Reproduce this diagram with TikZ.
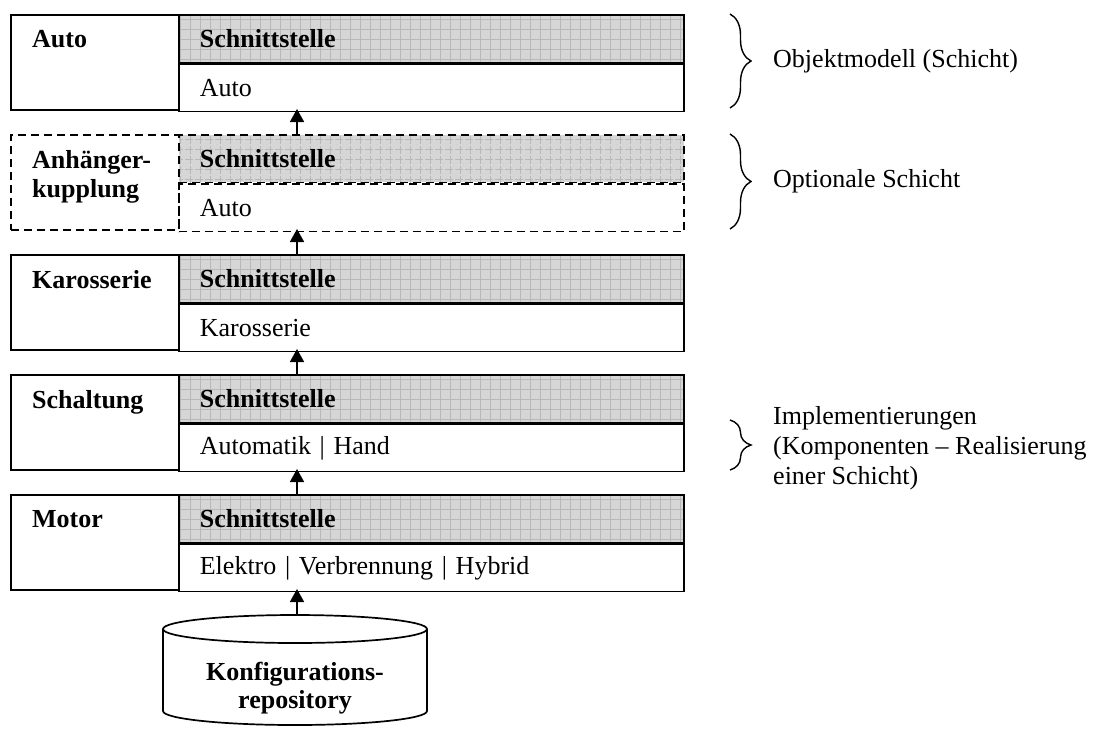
\documentclass[tikz,border=0pt]{standalone}
\usepackage{fontspec}
\setmainfont{Liberation Serif}
\usetikzlibrary{arrows.meta,calc,decorations.pathreplacing,patterns.meta}

\newcommand{\schichtfont}{\fontsize{26}{29}\selectfont}

\tikzset{
	base/.style={draw,line width=1.7pt,inner sep=0pt,anchor=north west},
	labelbox/.style={base,minimum width=168pt,minimum height=95pt},
	ifbox/.style={base,text width=463pt,inner xsep=21pt,minimum height=47.5pt,align=left,font=\schichtfont\bfseries,
		preaction={fill=black!16},
		preaction={pattern={Lines[angle=0,distance=10pt,line width=.5pt]},pattern color=black!28},
		preaction={pattern={Lines[angle=90,distance=10pt,line width=.5pt]},pattern color=black!28}},
	implbox/.style={base,text width=463pt,inner xsep=21pt,minimum height=47.5pt,align=left,font=\schichtfont},
	lefttext/.style={anchor=north west,inner sep=0pt,align=left,font=\schichtfont\bfseries},
	optional/.style={dash pattern=on 8pt off 5pt},
	arr/.style={line width=1.7pt,-{Triangle[width=14pt,length=13pt]}},
	klammer/.style={decorate,decoration={brace,amplitude=21pt},line width=1.4pt},
	note/.style={anchor=west,align=left,inner sep=0pt,font=\schichtfont}
}

\begin{document}
\begin{tikzpicture}[x=1pt,y=-1pt]
\useasboundingbox (0,0) rectangle (1099,729);

% Schichten
\foreach \nm/\lab/\impl/\st [count=\i from 0] in {auto/Auto/Auto/solid,ahk/{Anhänger-\\kupplung}/Auto/optional,karosserie/Karosserie/Karosserie/solid,schaltung/Schaltung/{Automatik | Hand}/solid,motor/Motor/{Elektro | Verbrennung | Hybrid}/solid}{
	\pgfmathsetmacro\y{14+120*\i}
	\node[labelbox,\st] (\nm) at (10,\y) {};
	\node[ifbox,\st] (\nm-if) at (178,\y) {Schnittstelle};
	\node[implbox,\st] (\nm-impl) at (\nm-if.south west) {\impl};
	\node[lefttext] (\nm-lab) at ($(\nm.north west)+(22,16)$) {\lab};
	\coordinate (\nm-top) at (297,\y);
	\coordinate (\nm-bot) at (297,\y+95);
}
\foreach \lo/\hi in {ahk/auto,karosserie/ahk,schaltung/karosserie,motor/schaltung}
	\draw[arr] (\lo-top) -- (\hi-bot);

% Repository
\draw[line width=1.7pt] (163,629) -- (163,711) arc[start angle=180,end angle=0,x radius=132,y radius=14] -- (427,629);
\draw[line width=1.7pt] (295,629) ellipse[x radius=132,y radius=14];
\node[font=\fontsize{26}{28}\selectfont\bfseries,align=center,inner sep=0pt] (repo) at (295,688) {Konfigurations-\\repository};
\coordinate (repotop) at (297,615);
\draw[arr] (repotop) -- (motor-bot);

% Klammern
\draw[klammer] (730,14) -- (730,108) coordinate[midway] (k1);
\draw[klammer] (730,134) -- (730,229) coordinate[midway] (k2);
\draw[klammer] (730,420) -- (730,470) coordinate[midway] (k3);
\node[note] (objekt) at (773,61) {Objektmodell (Schicht)};
\node[note] (optional) at (773,181) {Optionale Schicht};
\node[note,font=\fontsize{26}{30}\selectfont] (impl) at (773,448) {Implementierungen\\(Komponenten – Realisierung\\einer Schicht)};
\end{tikzpicture}
\end{document}
